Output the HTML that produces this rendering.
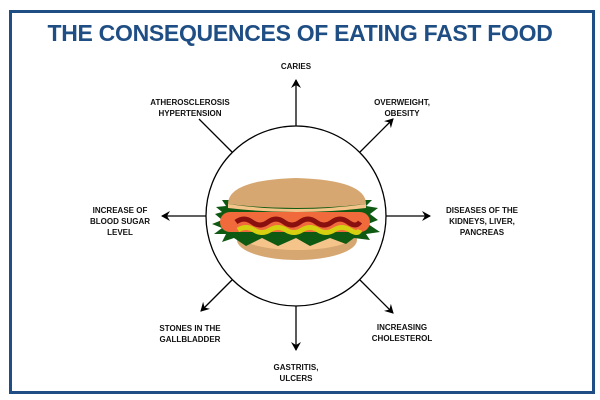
<!DOCTYPE html>
<html><head><style>
html,body{margin:0;padding:0;background:#fff;}
body{width:600px;height:400px;position:relative;overflow:hidden;font-family:"Liberation Sans",sans-serif;}
.frame{position:absolute;left:9px;top:10px;width:580px;height:378px;border:3px solid #1f4e85;}
.title{position:absolute;left:0;width:600px;top:20px;text-align:center;color:#1f4e85;font-weight:bold;font-size:23px;letter-spacing:-0.3px;}
.l{position:absolute;font-size:8px;font-weight:bold;line-height:11px;text-align:center;color:#111;}
</style></head><body>
<div class="frame"></div>
<div class="title">THE CONSEQUENCES OF EATING FAST FOOD</div>
<svg width="600" height="400" style="position:absolute;left:0;top:0">
<defs><marker id="a" markerWidth="10" markerHeight="10" refX="8" refY="5" orient="auto" markerUnits="userSpaceOnUse"><path d="M0,0 L9,5 L0,10 L3,5 z" fill="#000"/></marker></defs>
<g stroke="#000" stroke-width="1.3" fill="none" marker-end="url(#a)">
<line x1="296" y1="126" x2="296" y2="80"/>
<line x1="296" y1="306" x2="296" y2="350"/>
<line x1="386" y1="216" x2="430" y2="216"/>
<line x1="206" y1="216" x2="162" y2="216"/>
<line x1="360" y1="152" x2="393" y2="119"/>
<line x1="232" y1="152" x2="199" y2="119" marker-end="none"/>
<line x1="360" y1="280" x2="393" y2="313"/>
<line x1="232" y1="280" x2="201" y2="311"/>
</g>
<circle cx="296" cy="216" r="90" stroke="#000" stroke-width="1.3" fill="#fff"/>
<ellipse cx="297" cy="240" rx="60" ry="20" fill="#d6a771"/>
<ellipse cx="297" cy="236" rx="56" ry="14" fill="#f5c48b"/>
<path d="M215,214 L222,212 L216,207 L226,206 L222,200 L372,200 L366,206 L378,208 L370,214 L378,220 L368,224 L380,232 L366,234 L370,240 L354,238 L346,244 L330,238 L310,246 L296,238 L278,246 L262,238 L246,246 L234,238 L222,242 L226,234 L214,234 L222,228 L212,224 L222,220 z" fill="#0f5a12"/>
<rect x="220" y="212" width="150" height="20" rx="10" fill="#f06a3b"/>
<path d="M236,222 q8,-6 16,0 t16,0 t16,0 t16,0 t16,0 t16,0 t16,0 t12,0" stroke="#8a0f0f" stroke-width="5" fill="none"/>
<path d="M238,230 q8,-5 16,0 t16,0 t16,0 t16,0 t16,0 t16,0 t16,0 t10,0" stroke="#d6d011" stroke-width="5" fill="none"/>
<path d="M228,204 Q228,180 296,178 Q366,180 366,204 Q296,212 228,204 z" fill="#d6a771"/>
<path d="M228,204 Q296,214 366,204 L366,208 Q296,216 228,208 z" fill="#f5c48b"/>
</svg>
<div class="l" style="left:266px;top:61px;width:60px">CARIES</div>
<div class="l" style="left:140px;top:97px;width:100px">ATHEROSCLEROSIS<br>HYPERTENSION</div>
<div class="l" style="left:362px;top:97px;width:80px">OVERWEIGHT,<br>OBESITY</div>
<div class="l" style="left:80px;top:205px;width:80px">INCREASE OF<br>BLOOD SUGAR<br>LEVEL</div>
<div class="l" style="left:432px;top:205px;width:100px">DISEASES OF THE<br>KIDNEYS, LIVER,<br>PANCREAS</div>
<div class="l" style="left:140px;top:323px;width:100px">STONES IN THE<br>GALLBLADDER</div>
<div class="l" style="left:362px;top:322px;width:80px">INCREASING<br>CHOLESTEROL</div>
<div class="l" style="left:256px;top:362px;width:80px">GASTRITIS,<br>ULCERS</div>
</body></html>
